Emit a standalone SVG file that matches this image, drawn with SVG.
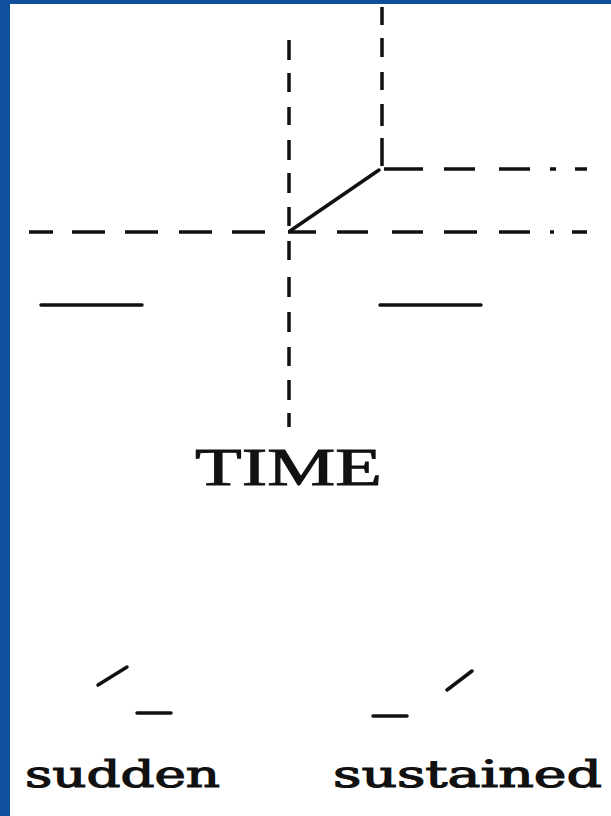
<svg xmlns="http://www.w3.org/2000/svg" width="611" height="816" viewBox="0 0 611 816">
  <style>
    .dash { stroke: #111; stroke-width: 3.5; fill: none; stroke-linecap: butt; }
    .solid { stroke: #111; stroke-width: 3.5; fill: none; stroke-linecap: round; }
    .label { fill: #111; stroke: #111; }
    .time { font-family: "Liberation Serif", "Times New Roman", serif; font-size: 53px; stroke-width: 0.9; }
    .word { font-family: "DejaVu Serif", "Liberation Serif", serif; font-size: 38px; stroke-width: 1.2; }
  </style>
  <rect x="0" y="0" width="611" height="816" fill="#0f509c"/>
  <rect x="10" y="4" width="601" height="812" fill="#ffffff"/>

  <g id="connectors">
    <!-- left vertical dashed axis -->
    <path class="dash" d="M289 40V60M289 73V92M289 107V125M289 140V160M289 173V193M289 207V226M289 241V260M289 277V297M289 312V332M289 347V366M289 380V400M289 413V427"/>
    <!-- right vertical dashed line -->
    <path class="dash" d="M382 7V25M382 38V57M382 72V90M382 104V126M382 138V166"/>
    <!-- upper horizontal dash-dot line -->
    <path class="dash" d="M384 169H423M444 169H475M499 169H530M550 169H556M575 169H587"/>
    <!-- lower horizontal dash-dot line -->
    <path class="dash" d="M29 232H53M72 232H105M125 232H158M179 232H212M232 232H265M288 232H316M337 232H368M392 232H423M444 232H477M499 232H530M550 232H554M572 232H587"/>
    <!-- solid ramp -->
    <path class="solid" d="M290 231L379 170"/>
  </g>

  <g id="level-left">
    <path class="solid" d="M41 305H142"/>
  </g>
  <g id="level-right">
    <path class="solid" d="M380 305H481"/>
  </g>

  <g id="time-label">
    <text class="label time" x="195" y="485" textLength="187" lengthAdjust="spacingAndGlyphs">TIME</text>
  </g>

  <g id="sudden">
    <path class="solid" d="M98 685L127 667"/>
    <path class="solid" d="M137 713H171"/>
    <text class="label word" x="25" y="787" textLength="195" lengthAdjust="spacingAndGlyphs">sudden</text>
  </g>

  <g id="sustained">
    <path class="solid" d="M373 716H407"/>
    <path class="solid" d="M447 690L472 671"/>
    <text class="label word" x="333" y="787" textLength="269" lengthAdjust="spacingAndGlyphs">sustained</text>
  </g>
</svg>
